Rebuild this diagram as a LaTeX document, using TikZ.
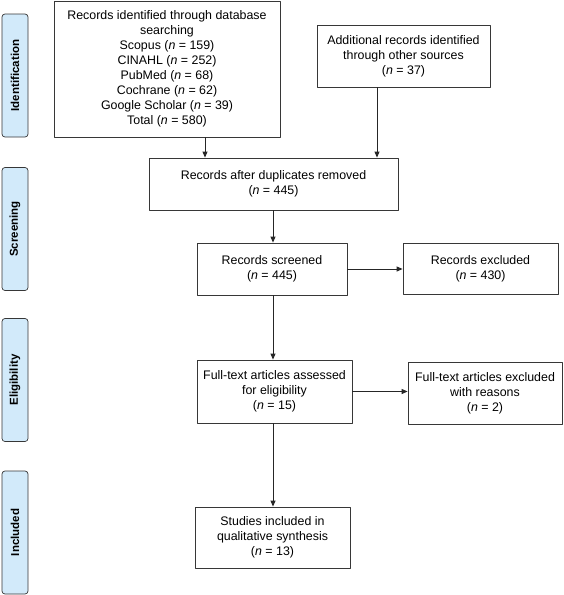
\documentclass[tikz,border=0pt]{standalone}
\usepackage{fontspec}
\setmainfont{Liberation Sans}
\usetikzlibrary{arrows.meta}
\definecolor{phaseblue}{RGB}{210,234,250}
\definecolor{boxgray}{RGB}{55,55,55}
\begin{document}
\begin{tikzpicture}[x=1pt,y=-1pt,line join=round,>={Triangle[length=6pt,width=5pt]}]
	\tikzset{box/.style={draw=boxgray,line width=.8pt,align=center,inner sep=0pt,font=\fontsize{12.4}{15}\selectfont},
		phase/.style={draw=boxgray,line width=.7pt,fill=phaseblue,rounded corners=3pt,rotate=90,minimum width=123pt,minimum height=26pt,inner sep=0pt,font=\fontsize{11.5}{13}\selectfont\bfseries},
		flow/.style={->,line width=1pt,draw=black!85}}
	\useasboundingbox (0,0) rectangle (564,595);
	\node[box,minimum width=226pt,minimum height=136pt] (db) at (167,69) {Records identified through database\\searching\\Scopus (\textit{n} = 159)\\CINAHL (\textit{n} = 252)\\PubMed (\textit{n} = 68)\\Cochrane (\textit{n} = 62)\\Google Scholar (\textit{n} = 39)\\Total (\textit{n} = 580)};
	\node[box,minimum width=173pt,minimum height=62pt] (other) at (403.5,56) {Additional records identified\\through other sources\\(\textit{n} = 37)};
	\node[box,minimum width=249pt,minimum height=52pt] (dup) at (273.5,184) {Records after duplicates removed\\(\textit{n} = 445)};
	\node[box,minimum width=150pt,minimum height=52pt] (screen) at (272,269) {Records screened\\(\textit{n} = 445)};
	\node[box,minimum width=155pt,minimum height=51pt] (excl) at (480.5,268.5) {Records excluded\\(\textit{n} = 430)};
	\node[box,minimum width=155pt,minimum height=63pt] (full) at (274.5,391.5) {Full-text articles assessed\\for eligibility\\(\textit{n} = 15)};
	\node[box,minimum width=154pt,minimum height=62pt] (fullex) at (485,393) {Full-text articles excluded\\with reasons\\(\textit{n} = 2)};
	\node[box,minimum width=155pt,minimum height=61pt] (incl) at (272.5,537.5) {Studies included in\\qualitative synthesis\\(\textit{n} = 13)};
	\node[phase] (ident) at (15,75.5) {Identification};
	\node[phase] (screening) at (15,229) {Screening};
	\node[phase] (elig) at (15,380) {Eligibility};
	\node[phase] (included) at (15,532.5) {Included};
	\coordinate (a1) at (205,0); \coordinate (a2) at (377,0); \coordinate (a3) at (273,0);
	\draw[flow] (db.south -| a1) -- (dup.north -| a1);
	\draw[flow] (other.south -| a2) -- (dup.north -| a2);
	\draw[flow] (dup.south -| a3) -- (screen.north -| a3);
	\draw[flow] (screen.east) -- (screen.east -| excl.west);
	\draw[flow] (screen.south -| a3) -- (full.north -| a3);
	\draw[flow] (full.east) -- (full.east -| fullex.west);
	\draw[flow] (full.south -| a3) -- (incl.north -| a3);
\end{tikzpicture}
\end{document}
